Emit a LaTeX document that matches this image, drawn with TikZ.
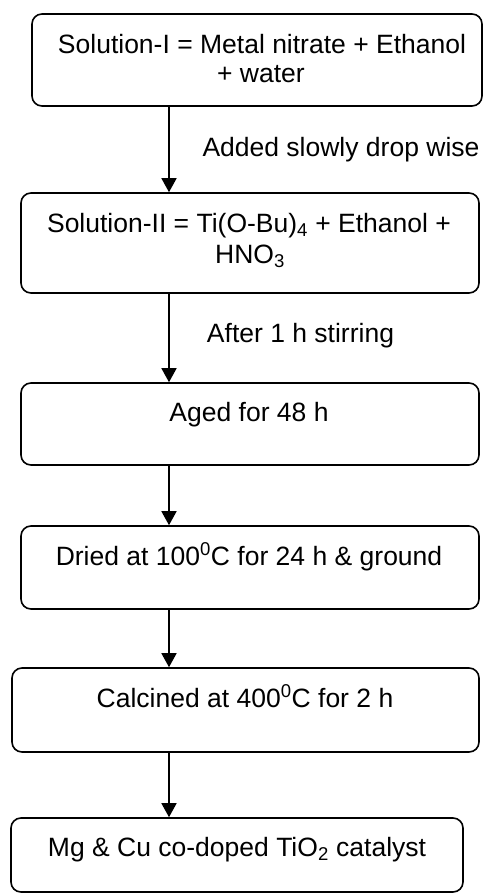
\documentclass[tikz,border=0pt]{standalone}
\usepackage{fontspec}
\setmainfont{Liberation Sans}
\usetikzlibrary{arrows.meta}
\begin{document}
\begin{tikzpicture}[x=1pt,y=-1pt,
  box/.style={draw,line width=1.6pt,rounded corners=10pt,inner sep=0pt},
  txt/.style={anchor=base,inner sep=0pt,font=\fontsize{26.5}{30}\selectfont},
  arr/.style={line width=1.6pt,-{Triangle[width=15pt,length=14pt]}}]
\useasboundingbox (0,0) rectangle (483,894);
% boxes
\node[box,minimum width=450pt,minimum height=92pt] (b1) at (257,60) {};
\node[box,minimum width=458pt,minimum height=100pt] (b2) at (250,243) {};
\node[box,minimum width=458pt,minimum height=82pt] (b3) at (250,424) {};
\node[box,minimum width=458pt,minimum height=83pt] (b4) at (250,567.5) {};
\node[box,minimum width=467pt,minimum height=84pt] (b5) at (245.5,710) {};
\node[box,minimum width=452pt,minimum height=74pt] (b6) at (237,855) {};
% texts
\node[txt] (t1a) at (262,53) {Solution-I = Metal nitrate + Ethanol};
\node[txt] (t1b) at (261,82) {+ water};
\node[txt] (t2a) at (249,232) {Solution-II = Ti(O-Bu)\textsubscript{4} + Ethanol +};
\node[txt] (t2b) at (250,263) {HNO\textsubscript{3}};
\node[txt] (t3) at (249,421) {Aged for 48 h};
\node[txt] (t4) at (249,565) {Dried at 100\textsuperscript{0}C for 24 h \& ground};
\node[txt] (t5) at (245,707) {Calcined at 400\textsuperscript{0}C for 2 h};
\node[txt] (t6) at (237,856) {Mg \& Cu co-doped TiO\textsubscript{2} catalyst};
% labels
\node[txt] (l1) at (341,156) {Added slowly drop wise};
\node[txt] (l2) at (300.5,342) {After 1 h stirring};
% arrows
\coordinate (ax) at (169,0);
\draw[arr] (ax |- b1.south) -- (ax |- b2.north);
\draw[arr] (ax |- b2.south) -- (ax |- b3.north);
\draw[arr] (ax |- b3.south) -- (ax |- b4.north);
\draw[arr] (ax |- b4.south) -- (ax |- b5.north);
\draw[arr] (ax |- b5.south) -- (ax |- b6.north);
\end{tikzpicture}
\end{document}
